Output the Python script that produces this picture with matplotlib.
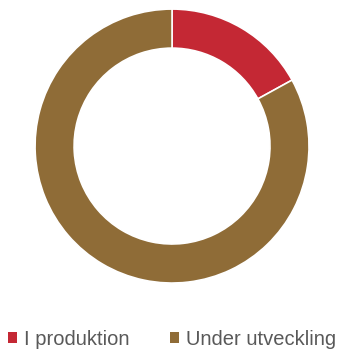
import matplotlib.pyplot as plt

labels = ["I produktion", "Under utveckling"]
values = [17, 83]
colors = ["#C42834", "#8F6C37"]

plt.rcParams["font.family"] = ["Liberation Sans", "DejaVu Sans"]

fig = plt.figure(figsize=(3.4, 3.49), dpi=100)
ax = fig.add_axes([0.103, 0.189, 0.806, 0.785])
wedges, _ = ax.pie(values, colors=colors, startangle=90, counterclock=False,
                   wedgeprops=dict(width=0.285, edgecolor="white", linewidth=1.2))
ax.set_xlim(-1, 1)
ax.set_ylim(-1, 1)
ax.set_aspect("equal")

leg = fig.legend(wedges, labels, loc="center", bbox_to_anchor=(0.505, 0.027),
                 ncol=2, frameon=False, fontsize=14.5, handlelength=0.45,
                 handleheight=0.45, handletextpad=0.35, columnspacing=2.0,
                 labelcolor="#595959", borderpad=0, borderaxespad=0)
for h in leg.legend_handles:
    h.set_edgecolor("none")

fig.savefig("out.png", dpi=100)
